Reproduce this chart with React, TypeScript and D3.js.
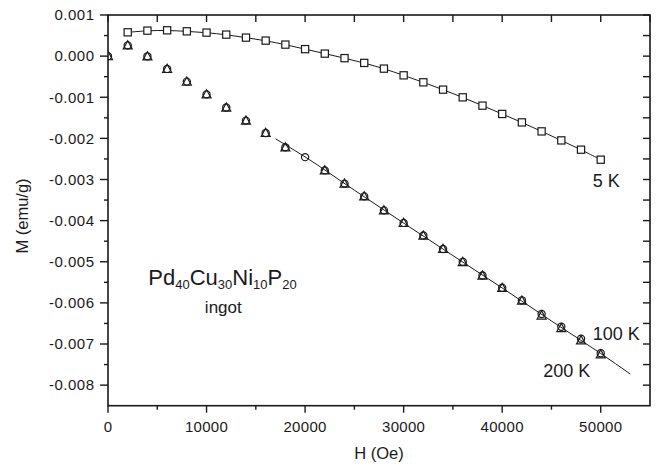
import React from "react";
import * as d3 from "d3";

const H5 = [2000, 4000, 6000, 8000, 10000, 12000, 14000, 16000, 18000, 20000, 22000, 24000, 26000, 28000, 30000, 32000, 34000, 36000, 38000, 40000, 42000, 44000, 46000, 48000, 50000];
const M5 = [0.000579, 0.00062, 0.000628, 0.000603, 0.000572, 0.000523, 0.00045, 0.000377, 0.00028, 0.00017, 0.000061, -0.000049, -0.000165, -0.000304, -0.000467, -0.000637, -0.000815, -0.001002, -0.001204, -0.001406, -0.001611, -0.00183, -0.002049, -0.002275, -0.002518];

const H200 = [0, 2000, 4000, 6000, 8000, 10000, 12000, 14000, 16000, 18000, 22000, 24000, 26000, 28000, 30000, 32000, 34000, 36000, 38000, 40000, 42000, 44000, 46000, 48000, 50000];
const M200 = [0, 0.000258, -0.00001, -0.000316, -0.000625, -0.000934, -0.001257, -0.001573, -0.001872, -0.002222, -0.002781, -0.003105, -0.003413, -0.003754, -0.00406, -0.004369, -0.004692, -0.005009, -0.005342, -0.005641, -0.005949, -0.00631, -0.006615, -0.006915, -0.007255];

const H100 = [0, 2000, 4000, 6000, 8000, 10000, 12000, 14000, 16000, 18000, 20000, 22000, 24000, 26000, 28000, 30000, 32000, 34000, 36000, 38000, 40000, 42000, 44000, 46000, 48000, 50000];
const M100 = [0, 0.000262, -0.000005, -0.00031, -0.00062, -0.00093, -0.00125, -0.001568, -0.001868, -0.002218, -0.002456, -0.002778, -0.0031, -0.00341, -0.00375, -0.004055, -0.004362, -0.004688, -0.005002, -0.005334, -0.005632, -0.005938, -0.006272, -0.00658, -0.006872, -0.007224];

const fitH = [17000, 20000, 25000, 30000, 35000, 40000, 45000, 50000, 53000];
const fitM = [-0.00201, -0.00245, -0.00326, -0.00406, -0.00485, -0.005637, -0.00644, -0.00723, -0.00773];

const xTicks = [0, 10000, 20000, 30000, 40000, 50000];
const xMinor = [5000, 15000, 25000, 35000, 45000];
const yTicks = [0.001, 0, -0.001, -0.002, -0.003, -0.004, -0.005, -0.006, -0.007, -0.008];
const yTickLabels = ["0.001", "0.000", "-0.001", "-0.002", "-0.003", "-0.004", "-0.005", "-0.006", "-0.007", "-0.008"];
const yMinor = [0.0005, -0.0005, -0.0015, -0.0025, -0.0035, -0.0045, -0.0055, -0.0065, -0.0075];

const FONT = "'Liberation Sans', Arial, sans-serif";
const INK = "#1a1a1a";

export default function App() {
  const L = 108, R = 650, T = 15, B = 405.7;
  const x = d3.scaleLinear().domain([0, 55000]).range([L, R]);
  const y = d3.scaleLinear().domain([-0.0085, 0.001]).range([B, T]);

  const line5 = d3.line<number>().x((_, i) => x(H5[i])).y((_, i) => y(M5[i])).curve(d3.curveBasis);
  const lineFit = d3.line<number>().x((_, i) => x(fitH[i])).y((_, i) => y(fitM[i])).curve(d3.curveMonotoneX);

  const sq = 7.2;
  const tri = (cx: number, cy: number) =>
    `M${cx},${cy - 4.8}L${cx + 4.5},${cy + 3.4}L${cx - 4.5},${cy + 3.4}Z`;

  const allTop = [...xTicks, ...xMinor, 55000];
  const allRight = [...yTicks, ...yMinor];

  return (
    <svg width={656} height={468} style={{ position: "absolute", left: 0, top: 0, background: "#fff" }}>
      <defs>
        <clipPath id="plot">
          <rect x={L} y={T} width={R - L} height={B - T} />
        </clipPath>
      </defs>
      <rect x={0} y={0} width={656} height={468} fill="#fff" />

      <g clipPath="url(#plot)">
        <path d={line5(M5) || ""} fill="none" stroke={INK} strokeWidth={1} />
        <path d={lineFit(fitM) || ""} fill="none" stroke={INK} strokeWidth={1} />
        {H5.map((h, i) => (
          <rect key={"s" + i} x={x(h) - sq / 2} y={y(M5[i]) - sq / 2} width={sq} height={sq} fill="#fff" stroke={INK} strokeWidth={1.2} />
        ))}
        {H100.map((h, i) => (
          <circle key={"c" + i} cx={x(h)} cy={y(M100[i])} r={3.6} fill="none" stroke={INK} strokeWidth={1.2} />
        ))}
        {H200.map((h, i) => (
          <path key={"t" + i} d={tri(x(h), y(M200[i]))} fill="none" stroke={INK} strokeWidth={1.2} strokeLinejoin="miter" />
        ))}
      </g>

      {/* frame */}
      <rect x={L} y={T} width={R - L} height={B - T} fill="none" stroke={INK} strokeWidth={1.6} />

      {/* bottom ticks */}
      {xTicks.map((t) => (
        <line key={"bx" + t} x1={x(t)} x2={x(t)} y1={B} y2={B + 7} stroke={INK} strokeWidth={1.4} />
      ))}
      {xMinor.map((t) => (
        <line key={"bm" + t} x1={x(t)} x2={x(t)} y1={B} y2={B + 4} stroke={INK} strokeWidth={1.4} />
      ))}
      {/* top ticks inward */}
      {allTop.map((t) => (
        <line key={"tx" + t} x1={x(t)} x2={x(t)} y1={T} y2={T + 7} stroke={INK} strokeWidth={1.4} />
      ))}
      {/* left ticks outward */}
      {yTicks.map((t) => (
        <line key={"ly" + t} x1={L - 8} x2={L} y1={y(t)} y2={y(t)} stroke={INK} strokeWidth={1.4} />
      ))}
      {yMinor.map((t) => (
        <line key={"lm" + t} x1={L - 4} x2={L} y1={y(t)} y2={y(t)} stroke={INK} strokeWidth={1.4} />
      ))}
      {/* right ticks inward */}
      {allRight.map((t) => (
        <line key={"ry" + t} x1={R - 7} x2={R} y1={y(t)} y2={y(t)} stroke={INK} strokeWidth={1.4} />
      ))}

      {/* tick labels */}
      {xTicks.map((t) => (
        <text key={"xl" + t} x={x(t)} y={431.7} textAnchor="middle" fontFamily={FONT} fontSize={15} letterSpacing={0.3} fill={INK}>
          {String(t)}
        </text>
      ))}
      {yTicks.map((t, i) => (
        <text key={"yl" + t} x={94.5} y={y(t) + 5.3} textAnchor="end" fontFamily={FONT} fontSize={15} letterSpacing={0.5} fill={INK}>
          {yTickLabels[i]}
        </text>
      ))}

      {/* axis titles */}
      <text x={379} y={459} textAnchor="middle" fontFamily={FONT} fontSize={16.5} fill={INK}>
        H (Oe)
      </text>
      <text transform="translate(28.3,216) rotate(-90)" textAnchor="middle" fontFamily={FONT} fontSize={16.5} fill={INK}>
        M (emu/g)
      </text>

      {/* annotations */}
      <text x={148.3} y={285} fontFamily={FONT} fontSize={22} fill={INK}>
        Pd<tspan fontSize={13} dy={3.5}>40</tspan>
        <tspan dy={-3.5}>Cu</tspan>
        <tspan fontSize={13} dy={3.5}>30</tspan>
        <tspan dy={-3.5}>Ni</tspan>
        <tspan fontSize={13} dy={3.5}>10</tspan>
        <tspan dy={-3.5}>P</tspan>
        <tspan fontSize={13} dy={3.5}>20</tspan>
      </text>
      <text x={223.3} y={313} textAnchor="middle" fontFamily={FONT} fontSize={17} fill={INK}>
        ingot
      </text>
      <text x={592.7} y={186.7} fontFamily={FONT} fontSize={18} fill={INK}>
        5 K
      </text>
      <text x={592.7} y={340} fontFamily={FONT} fontSize={18} fill={INK}>
        100 K
      </text>
      <text x={543.3} y={376.7} fontFamily={FONT} fontSize={18} fill={INK}>
        200 K
      </text>
    </svg>
  );
}
